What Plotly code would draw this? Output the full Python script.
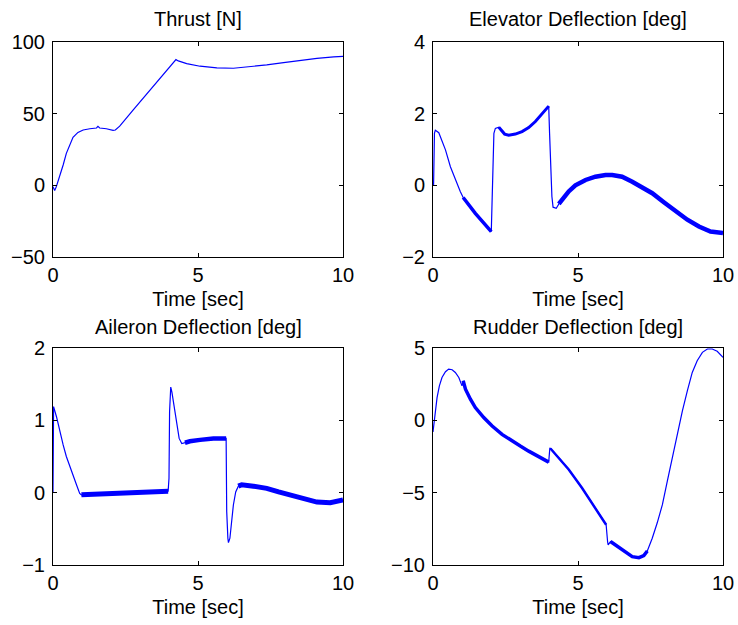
import plotly.graph_objects as go

# ---------------- data ----------------
thrust_t = [0, 0.058, 0.115, 0.23, 0.35, 0.46, 0.58, 0.69, 0.86, 1.04, 1.27, 1.5, 1.55, 1.61,
            1.84, 2.07, 2.15, 2.3, 2.76, 3.34, 3.92, 4.24, 4.32, 4.61, 5.07, 5.65, 6.22,
            6.8, 7.37, 7.95, 8.53, 9.1, 9.68, 10]
thrust_y = [-0.9, -3.6, -0.9, 6.1, 14.2, 22.3, 28.8, 33.5, 36.9, 38.6, 39.5, 40.0, 41.1, 40.0,
            39.5, 38.3, 38.6, 41.3, 52.5, 66, 80, 87.7, 86.8, 84.9, 83.1, 81.9, 81.7,
            82.6, 84.0, 85.6, 87.2, 88.6, 89.6, 90]

elev_t = [0, 0.02, 0.05, 0.08, 0.2, 0.31, 0.43, 0.6, 0.77, 0.94, 1.04, 1.46, 2.01,
          2.04, 2.07, 2.1, 2.15, 2.27, 2.36, 2.47, 2.61, 2.84, 3.07, 3.3, 3.53, 3.76, 3.99,
          4.02, 4.05, 4.1, 4.14, 4.25, 4.34, 4.45, 4.68, 4.91, 5.26, 5.6, 5.95, 6.18, 6.52,
          6.87, 7.22, 7.56, 7.96, 8.37, 8.77, 9.17, 9.57, 10]
elev_y = [0, 0.01, 1.45, 1.54, 1.47, 1.26, 0.99, 0.52, 0.15, -0.17, -0.34, -0.78, -1.29,
          -0.41, 0.8, 1.45, 1.59, 1.62, 1.52, 1.43, 1.40, 1.43, 1.50, 1.61, 1.78, 1.98, 2.21,
          1.45, 0.52, -0.31, -0.61, -0.64, -0.52, -0.39, -0.17, 0.0, 0.15, 0.24, 0.29, 0.29, 0.24,
          0.10, -0.05, -0.22, -0.47, -0.73, -0.96, -1.15, -1.29, -1.33]

ail_t = [0, 0.01, 0.02, 0.12, 0.23, 0.35, 0.46, 0.58, 0.69, 0.81, 0.92, 0.98, 1.61, 2.76, 3.97,
         4.0, 4.02, 4.06, 4.1, 4.17, 4.26, 4.35, 4.44, 4.55, 4.72, 5.07, 5.53, 5.97,
         5.99, 6.03, 6.05, 6.1, 6.15, 6.22, 6.3, 6.39, 6.51, 6.91, 7.37, 7.78, 8.18, 8.64,
         9.1, 9.56, 10]
ail_y = [0, 1.12, 1.19, 1.05, 0.84, 0.66, 0.50, 0.36, 0.22, 0.11, -0.01, -0.03, -0.02, 0.01, 0.02,
         0.2, 1.12, 1.46, 1.39, 1.21, 0.93, 0.75, 0.68, 0.69, 0.71, 0.73, 0.75, 0.75,
         -0.26, -0.63, -0.69, -0.63, -0.45, -0.17, 0.01, 0.09, 0.11, 0.09, 0.06, 0.01, -0.03, -0.09,
         -0.13, -0.14, -0.10]

rud_t = [0, 0.02, 0.08, 0.14, 0.22, 0.31, 0.43, 0.54, 0.66, 0.77, 0.89, 1.0, 1.04, 1.12, 1.29,
         1.46, 1.75, 2.04, 2.38, 2.73, 3.01, 3.3, 3.65, 3.99, 4.03, 4.05, 4.34, 4.68, 5.14,
         5.6, 5.97, 6.02, 6.04, 6.12, 6.29, 6.52, 6.87, 7.1, 7.27, 7.39, 7.56, 7.73, 7.91,
         8.08, 8.25, 8.42, 8.6, 8.77, 8.94, 9.11, 9.29, 9.46, 9.63, 9.8, 10]
rud_y = [-0.8, -0.39, 0.65, 1.57, 2.38, 2.96, 3.36, 3.54, 3.50, 3.31, 2.96, 2.38, 2.73, 2.15, 1.46,
         0.88, 0.19, -0.39, -0.97, -1.44, -1.78, -2.13, -2.52, -2.89, -1.9, -1.95, -2.59, -3.4, -4.68,
         -6.06, -7.22, -8.38, -8.61, -8.38, -8.61, -8.96, -9.42, -9.49, -9.35, -9.03, -8.15, -7.1, -5.83,
         -4.21, -2.59, -0.97, 0.65, 2.04, 3.31, 4.12, 4.70, 4.93, 4.93, 4.77, 4.35]

# time windows where the signal chatters (drawn as a thick band): (start, end, band width)
elev_bands = [(1.04, 2.01, 3.5), (2.27, 3.99, 3), (4.34, 10, 4.5)]
ail_bands = [(0.98, 3.97, 5), (4.55, 5.97, 4.5), (6.39, 10, 5)]
rud_bands = [(1.04, 3.99, 3.5), (4.05, 5.97, 2.5), (6.12, 7.39, 3.5)]

titles = ["Thrust [N]", "Elevator Deflection [deg]", "Aileron Deflection [deg]", "Rudder Deflection [deg]"]
xlabel = "Time [sec]"
y_ranges = [(-50, 100), (-2, 4), (-1, 2), (-10, 5)]
y_ticks = [[-50, 0, 50, 100], [-2, 0, 2, 4], [-1, 0, 1, 2], [-10, -5, 0, 5]]
x_ticks = [0, 5, 10]

# ---------------- figure ----------------
W, H = 738, 625
BLUE = "rgb(0,0,255)"
FONT = "Liberation Sans, Arial, Helvetica, sans-serif"

# (left, right, top, bottom, title centre y) in pixels
boxes = [(53, 343, 42, 257, 19), (433, 723, 42, 257, 19),
         (53, 343, 348, 565, 327), (433, 723, 348, 565, 327)]

fig = go.Figure()
series = [(thrust_t, thrust_y, []), (elev_t, elev_y, elev_bands),
          (ail_t, ail_y, ail_bands), (rud_t, rud_y, rud_bands)]

for i, (t, y, bands) in enumerate(series):
    sfx = "" if i == 0 else str(i + 1)
    fig.add_trace(go.Scatter(x=t, y=y, mode="lines", line=dict(color=BLUE, width=1.2),
                             xaxis="x" + sfx, yaxis="y" + sfx, showlegend=False, hoverinfo="skip"))
    for (a, b, w) in bands:
        bt = [tt for tt in t if a <= tt <= b]
        by = [yy for tt, yy in zip(t, y) if a <= tt <= b]
        fig.add_trace(go.Scatter(x=bt, y=by, mode="lines", line=dict(color=BLUE, width=w),
                                 xaxis="x" + sfx, yaxis="y" + sfx, showlegend=False, hoverinfo="skip"))

axis_common = dict(showgrid=False, zeroline=False, showline=True, linecolor="black", linewidth=1,
                   mirror="ticks", ticks="inside", ticklen=4, tickcolor="black", automargin=False,
                   tickfont=dict(family=FONT, size=20, color="black"))

layout = dict(width=W, height=H, margin=dict(l=0, r=0, t=0, b=0, autoexpand=False),
              paper_bgcolor="white", plot_bgcolor="white", annotations=[])

for i, (l, r, tp, bt, ty) in enumerate(boxes):
    sfx = "" if i == 0 else str(i + 1)
    xd = [l / W, r / W]
    yd = [1 - bt / H, 1 - tp / H]
    layout["xaxis" + sfx] = dict(axis_common, domain=xd, range=[0, 10], tickvals=x_ticks,
                                 anchor="y" + sfx, ticklabelstandoff=0,
                                 title=dict(text=xlabel, font=dict(family=FONT, size=20, color="black"),
                                            standoff=6))
    layout["yaxis" + sfx] = dict(axis_common, domain=yd, range=list(y_ranges[i]), tickvals=y_ticks[i],
                                 anchor="x" + sfx, ticklabelstandoff=3)
    layout["annotations"].append(dict(text=titles[i], x=(l + r) / 2 / W, y=1 - ty / H,
                                      xref="paper", yref="paper", xanchor="center", yanchor="middle",
                                      showarrow=False, font=dict(family=FONT, size=20, color="black")))

fig.update_layout(**layout)
fig.write_html("out.html")
